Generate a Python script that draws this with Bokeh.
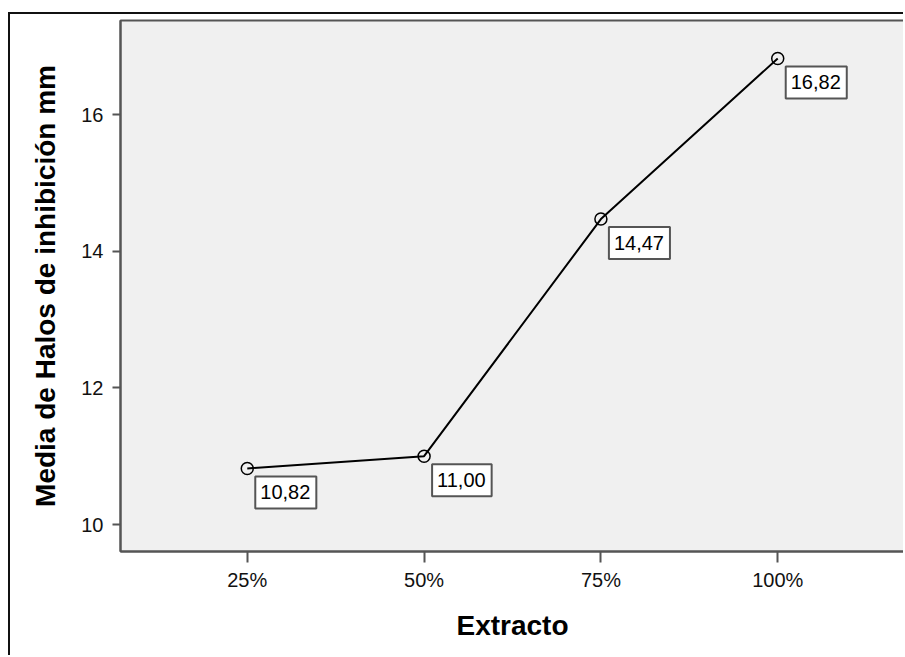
from bokeh.plotting import figure
from bokeh.models import ColumnDataSource, Label, FixedTicker, Range1d
from bokeh.embed import file_html
from bokeh.resources import INLINE

categories = ["25%", "50%", "75%", "100%"]
means = [10.82, 11.00, 14.47, 16.82]
mean_labels = ["10,82", "11,00", "14,47", "16,82"]
y_ticks = [10, 12, 14, 16]

FONT = "Liberation Sans"

xpos = list(range(1, len(categories) + 1))
src = ColumnDataSource(dict(x=xpos, y=means, lab=mean_labels))

p = figure(width=895, height=643, output_backend="svg",
           toolbar_location=None, tools="",
           min_border_left=110, min_border_top=6, min_border_right=1, min_border_bottom=106)
p.styles = {"margin-left": "8px", "margin-top": "12px",
            "border-left": "2px solid #111111", "border-top": "2px solid #111111"}
p.x_range = Range1d(1 - 0.717, len(categories) + 0.717)
p.y_range = Range1d(9.605, 17.376)

p.background_fill_color = "#f0f0f0"
p.border_fill_color = "white"
p.outline_line_color = "#555555"
p.outline_line_width = 2
p.grid.visible = False

p.line("x", "y", source=src, line_color="black", line_width=2)
p.scatter("x", "y", source=src, size=12, marker="circle", fill_color=None,
          line_color="black", line_width=1.5)

for xv, val, lab in zip(xpos, means, mean_labels):
    p.add_layout(Label(x=xv, y=val, text=lab, x_offset=8, y_offset=-8,
                       text_align="left", text_baseline="top", text_font=FONT,
                       text_font_size="20px", text_color="black",
                       background_fill_color="white", border_line_color="#555555",
                       border_line_width=2,
                       padding=dict(left=5, right=6, top=9, bottom=9)))

for ax in (p.xaxis[0], p.yaxis[0]):
    ax.axis_line_color = "#555555"
    ax.axis_line_width = 2
    ax.major_tick_line_color = "#555555"
    ax.major_tick_line_width = 2
    ax.minor_tick_line_color = None
    ax.major_tick_in = 0
    ax.major_label_text_font = FONT
    ax.major_label_text_font_size = "20px"
    ax.major_label_text_color = "#111111"
    ax.axis_label_text_font = FONT
    ax.axis_label_text_font_size = "28px"
    ax.axis_label_text_font_style = "bold"
    ax.axis_label_text_color = "black"

p.yaxis.ticker = FixedTicker(ticks=y_ticks)
p.yaxis.major_tick_out = 8
p.yaxis.major_label_standoff = 9
p.yaxis.axis_label = "Media de Halos de inhibición mm"
p.yaxis.axis_label_standoff = 17

p.xaxis.ticker = FixedTicker(ticks=xpos)
p.xaxis.major_label_overrides = {xv: c for xv, c in zip(xpos, categories)}
p.xaxis.major_tick_out = 11
p.xaxis.major_label_standoff = 6
p.xaxis.axis_label = "Extracto"
p.xaxis.axis_label_standoff = 16

open("out.html", "w").write(file_html(p, INLINE))
